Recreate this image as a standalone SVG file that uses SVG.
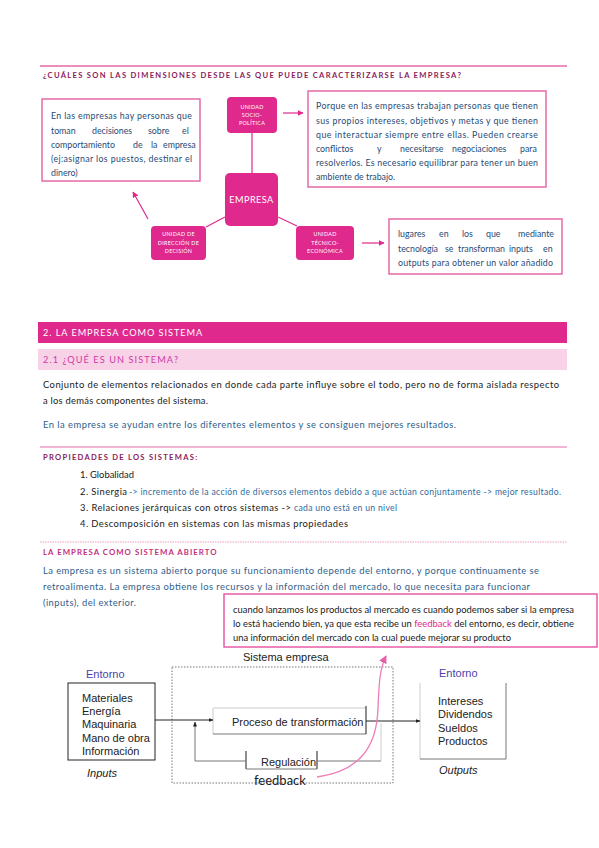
<svg xmlns="http://www.w3.org/2000/svg" width="599" height="848" viewBox="0 0 599 848">
<style>
text{font-family:Lato,"Open Sans","Liberation Sans",sans-serif}
.hdr{font-size:7.6px;font-weight:bold;fill:#8C1C5B;letter-spacing:0.9px}
.bx{fill:#fff;stroke:#E56AA6;stroke-width:1.5}
.bt{font-size:8.8px;fill:#1F4A75}
.nd{fill:#E0298D}
.nt{font-size:5.4px;fill:#fff;text-anchor:middle;letter-spacing:0.3px}
.pl{stroke:#E0298D;stroke-width:1.2;fill:none}
.body{font-size:9.4px;fill:#1a1a1a}
.blue{font-size:9.4px;fill:#2E5E8C}
.sblue{font-size:8.6px;fill:#2E6A9E}
.dg{font-family:"Liberation Sans",Arial,sans-serif;font-size:11px;fill:#222}
.ln{stroke:#222;stroke-width:1;fill:none}
.lg{stroke:#ccc;stroke-width:1;fill:none}
.mg{stroke:#777;stroke-width:1;fill:none}
</style>
<defs>
<marker id="pk" viewBox="0 0 10 10" refX="9" refY="5" markerWidth="6" markerHeight="6" orient="auto" markerUnits="userSpaceOnUse"><path d="M0,0L10,5L0,10z" fill="#E0298D"/></marker>
<marker id="pk2" viewBox="0 0 10 10" refX="9" refY="5" markerWidth="8" markerHeight="8" orient="auto" markerUnits="userSpaceOnUse"><path d="M0,0L10,5L0,10z" fill="#E85CA8"/></marker>
<marker id="bk" viewBox="0 0 10 10" refX="9" refY="5" markerWidth="5" markerHeight="5" orient="auto" markerUnits="userSpaceOnUse"><path d="M0,1L10,5L0,9z" fill="#222"/></marker>
</defs>
<rect width="599" height="848" fill="#fff"/>

<!-- Header -->
<line x1="40" y1="66" x2="567" y2="66" stroke="#E56AA6" stroke-width="1.5"/>
<text class="hdr" x="43" y="78" textLength="419" lengthAdjust="spacing">¿CUÁLES SON LAS DIMENSIONES DESDE LAS QUE PUEDE CARACTERIZARSE LA EMPRESA?</text>

<!-- Top diagram connectors -->
<g id="connectors-top">
<line class="pl" x1="252" y1="133" x2="252" y2="173"/>
<line class="pl" x1="225" y1="217" x2="206" y2="227"/>
<line class="pl" x1="278" y1="217" x2="297" y2="226"/>
<line class="pl" x1="283" y1="113" x2="303" y2="113" marker-end="url(#pk)"/>
<line class="pl" x1="362" y1="243" x2="384" y2="243" marker-end="url(#pk)"/>
<line class="pl" x1="148" y1="219" x2="133" y2="192" marker-end="url(#pk)"/>
</g>

<g id="box-direccion-desc">
<rect class="bx" x="42" y="99" width="158" height="82"/>
<text class="bt" x="51" y="119" textLength="141" lengthAdjust="spacing">En las empresas hay personas que</text>
<text class="bt" y="134"><tspan x="51">toman</tspan><tspan x="92">decisiones</tspan><tspan x="148">sobre</tspan><tspan x="182">el</tspan></text>
<text class="bt" y="148"><tspan x="51">comportamiento</tspan><tspan x="133">de</tspan><tspan x="151">la</tspan><tspan x="163">empresa</tspan></text>
<text class="bt" x="51" y="162" textLength="141" lengthAdjust="spacing">(ej:asignar los puestos, destinar el</text>
<text class="bt" x="51" y="176">dinero)</text>
</g>

<g id="node-socio">
<rect class="nd" x="227" y="97" width="50" height="36" rx="4"/>
<text class="nt" x="252" y="109">UNIDAD</text>
<text class="nt" x="252" y="117">SOCIO-</text>
<text class="nt" x="252" y="125">POLÍTICA</text>
</g>

<g id="box-socio-desc">
<rect class="bx" x="308" y="91" width="238" height="96"/>
<text class="bt" x="316" y="109" textLength="222" lengthAdjust="spacing">Porque en las empresas trabajan personas que tienen</text>
<text class="bt" x="316" y="124" textLength="222" lengthAdjust="spacing">sus propios intereses, objetivos y metas y que tienen</text>
<text class="bt" x="316" y="138" textLength="222" lengthAdjust="spacing">que interactuar siempre entre ellas. Pueden crearse</text>
<text class="bt" y="152"><tspan x="316">conflictos</tspan><tspan x="377">y</tspan><tspan x="400">necesitarse</tspan><tspan x="452">negociaciones</tspan><tspan x="520">para</tspan></text>
<text class="bt" x="316" y="166" textLength="222" lengthAdjust="spacing">resolverlos. Es necesario equilibrar para tener un buen</text>
<text class="bt" x="316" y="180">ambiente de trabajo.</text>
</g>

<g id="node-empresa">
<rect class="nd" x="225" y="173" width="53" height="53" rx="5"/>
<text x="251.5" y="202.5" font-size="9.2" fill="#fff" text-anchor="middle" letter-spacing="0.4">EMPRESA</text>
</g>

<g id="node-direccion">
<rect class="nd" x="151" y="226" width="55" height="34" rx="4"/>
<text class="nt" x="178.5" y="236">UNIDAD DE</text>
<text class="nt" x="178.5" y="245">DIRECCIÓN DE</text>
<text class="nt" x="178.5" y="253">DECISIÓN</text>
</g>

<g id="node-tecnico">
<rect class="nd" x="296" y="226" width="58" height="34" rx="4"/>
<text class="nt" x="325" y="236">UNIDAD</text>
<text class="nt" x="325" y="245">TÉCNICO-</text>
<text class="nt" x="325" y="253">ECONÓMICA</text>
</g>

<g id="box-tecnico-desc">
<rect class="bx" x="389" y="219" width="173" height="55"/>
<text class="bt" y="237"><tspan x="398">lugares</tspan><tspan x="439">en</tspan><tspan x="462">los</tspan><tspan x="486">que</tspan><tspan x="518">mediante</tspan></text>
<text class="bt" y="252"><tspan x="398">tecnología</tspan><tspan x="445">se</tspan><tspan x="458">transforman</tspan><tspan x="509">inputs</tspan><tspan x="543">en</tspan></text>
<text class="bt" x="398" y="266" textLength="155" lengthAdjust="spacing">outputs para obtener un valor añadido</text>
</g>

<!-- Section 2 -->
<rect x="38" y="322" width="529" height="21" fill="#E0298D"/>
<text x="43" y="336" font-size="9.2" fill="#fff" letter-spacing="0.8" textLength="160" lengthAdjust="spacing">2. LA EMPRESA COMO SISTEMA</text>
<rect x="38" y="349" width="529" height="21" fill="#F8D2E6"/>
<text x="43" y="363" font-size="9.2" fill="#CF3AA6" letter-spacing="0.8" textLength="136" lengthAdjust="spacing">2.1 ¿QUÉ ES UN SISTEMA?</text>
<text class="body" x="43" y="388" textLength="516" lengthAdjust="spacing">Conjunto de elementos relacionados en donde cada parte influye sobre el todo, pero no de forma aislada respecto</text>
<text class="body" x="43" y="404" textLength="165" lengthAdjust="spacing">a los demás componentes del sistema.</text>
<text class="blue" x="43" y="428" textLength="413" lengthAdjust="spacing">En la empresa se ayudan entre los diferentes elementos y se consiguen mejores resultados.</text>

<line x1="40" y1="447" x2="567" y2="447" stroke="#E56AA6" stroke-width="1"/>
<text class="hdr" x="43" y="460" textLength="155" lengthAdjust="spacing">PROPIEDADES DE LOS SISTEMAS:</text>
<text class="body" x="80" y="478">1. Globalidad</text>
<text class="body" x="80" y="495" textLength="47" lengthAdjust="spacing">2. Sinergia</text>
<text class="sblue" x="129" y="495" textLength="432" lengthAdjust="spacing">-&gt; incremento de la acción de diversos elementos debido a que actúan conjuntamente -&gt; mejor resultado.</text>
<text class="body" x="80" y="511" textLength="211" lengthAdjust="spacing">3. Relaciones jerárquicas con otros sistemas -&gt;</text>
<text class="sblue" x="294" y="511" textLength="103" lengthAdjust="spacing">cada uno está en un nivel</text>
<text class="body" x="80" y="527" textLength="268" lengthAdjust="spacing">4. Descomposición en sistemas con las mismas propiedades</text>

<line x1="40" y1="542" x2="567" y2="542" stroke="#EC9CC3" stroke-width="1" stroke-dasharray="1.5,1"/>
<text x="43" y="555" font-size="7.8" font-weight="bold" fill="#C42F7E" letter-spacing="0.5" textLength="174" lengthAdjust="spacing">LA EMPRESA COMO SISTEMA ABIERTO</text>
<text class="blue" x="43" y="574" textLength="496" lengthAdjust="spacing">La empresa es un sistema abierto porque su funcionamiento depende del entorno, y porque continuamente se</text>
<text class="blue" x="43" y="590" textLength="487" lengthAdjust="spacing">retroalimenta. La empresa obtiene los recursos y la información del mercado, lo que necesita para funcionar</text>
<text class="blue" x="43" y="606" textLength="93" lengthAdjust="spacing">(inputs), del exterior.</text>

<!-- feedback note box -->
<g id="box-feedback-note">
<rect x="224" y="594" width="373" height="53" fill="#fff" stroke="#E85CA8" stroke-width="1.5"/>
<text class="body" x="233" y="613" font-size="8.6" textLength="341" lengthAdjust="spacing">cuando lanzamos los productos al mercado es cuando podemos saber si la empresa</text>
<text class="body" x="233" y="627" font-size="8.6" textLength="341" lengthAdjust="spacing">lo está haciendo bien, ya que esta recibe un <tspan fill="#E0298D">feedback</tspan> del entorno, es decir, obtiene</text>
<text class="body" x="233" y="641" font-size="8.6" textLength="278" lengthAdjust="spacing">una información del mercado con la cual puede mejorar su producto</text>
</g>

<!-- Bottom system diagram -->
<g id="system-empresa">
<text class="dg" x="243" y="661">Sistema empresa</text>
<rect x="172" y="667" width="221" height="116" fill="none" stroke="#777" stroke-width="1" stroke-dasharray="1.5,1.5"/>
</g>

<g id="node-entorno-in">
<text class="dg" x="86" y="678" style="fill:#4B3FA8">Entorno</text>
<rect x="68" y="683" width="87" height="77" fill="#fff" stroke="#222" stroke-width="1"/>
<text class="dg" x="82" y="702">Materiales</text>
<text class="dg" x="82" y="715">Energía</text>
<text class="dg" x="82" y="728">Maquinaria</text>
<text class="dg" x="82" y="742">Mano de obra</text>
<text class="dg" x="82" y="755">Información</text>
<text class="dg" x="87" y="777" font-style="italic">Inputs</text>
</g>

<g id="node-proceso">
<path class="lg" d="M213,734V708H366"/>
<path class="mg" d="M213,734H366"/>
<line x1="366" y1="706" x2="366" y2="734" stroke="#444" stroke-width="1.2"/>
<text class="dg" x="232" y="726">Proceso de transformación</text>
</g>

<g id="node-regulacion">
<line x1="246" y1="751" x2="246" y2="769" stroke="#444" stroke-width="1.2"/>
<line x1="317" y1="751" x2="317" y2="769" stroke="#444" stroke-width="1.2"/>
<line class="mg" x1="246" y1="769" x2="317" y2="769"/>
<text class="dg" x="261" y="766">Regulación</text>
</g>

<g id="node-entorno-out">
<text class="dg" x="439" y="677" style="fill:#4B3FA8">Entorno</text>
<line class="lg" x1="420" y1="683" x2="420" y2="759"/>
<line class="mg" x1="506" y1="683" x2="506" y2="759"/>
<line class="mg" x1="420" y1="759" x2="506" y2="759"/>
<text class="dg" x="438" y="705">Intereses</text>
<text class="dg" x="438" y="718">Dividendos</text>
<text class="dg" x="438" y="732">Sueldos</text>
<text class="dg" x="438" y="745">Productos</text>
<text class="dg" x="439" y="774" font-style="italic">Outputs</text>
</g>

<g id="connectors-bottom">
<line class="ln" x1="155" y1="720" x2="213" y2="720" marker-end="url(#bk)"/>
<line class="ln" x1="366" y1="721" x2="420" y2="721" marker-end="url(#bk)"/>
<path class="mg" d="M246,761H195V722" marker-end="url(#bk)"/>
<line class="mg" x1="317" y1="761" x2="381" y2="761"/>
<line class="lg" x1="381" y1="761" x2="381" y2="723"/>
<path d="M317,777C362,771 377,744 378,708C379,682 380,668 386,656" fill="none" stroke="#EE7DB8" stroke-width="1.3" marker-end="url(#pk2)"/>
<text x="254" y="785" font-family="Liberation Sans, Arial, sans-serif" font-size="13" fill="#222">feedback</text>
</g>
</svg>
